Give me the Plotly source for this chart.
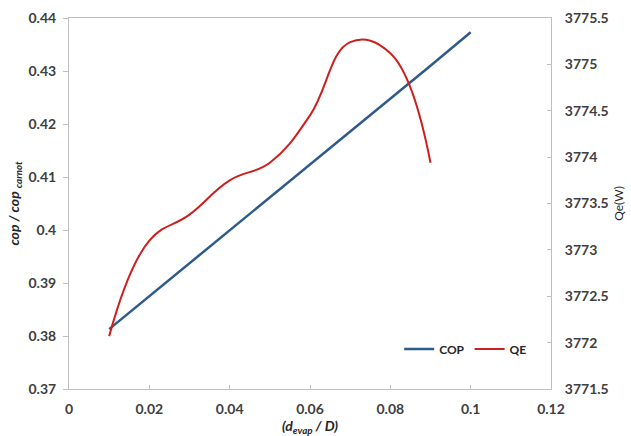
import plotly.graph_objects as go

x_ratio = [0.01, 0.02, 0.03, 0.04, 0.05, 0.06, 0.07, 0.08, 0.09, 0.10]
cop = [0.3813, 0.3875, 0.3937, 0.3999, 0.4061, 0.4124, 0.4186, 0.4248, 0.4310, 0.4373]
x_qe = [0.01, 0.02, 0.03, 0.04, 0.05, 0.06, 0.07, 0.08, 0.09]
qe = [3772.07, 3773.10, 3773.38, 3773.75, 3773.94, 3774.45, 3775.24, 3775.12, 3773.94]

FONT = "Lato"
TXT = "#404040"
AX = "#bfbfbf"

fig = go.Figure()
fig.add_trace(go.Scatter(x=x_ratio, y=cop, name="COP", mode="lines",
                         line=dict(color="#2f5a8c", width=2.5), yaxis="y"))
fig.add_trace(go.Scatter(x=x_qe, y=qe, name="QE", mode="lines",
                         line=dict(color="#cc1f1f", width=2, shape="spline", smoothing=1.2),
                         yaxis="y2"))

fig.update_layout(
    width=631, height=436,
    margin=dict(l=69, r=80, t=18, b=47),
    paper_bgcolor="white", plot_bgcolor="white",
    font=dict(family=FONT, size=14, color=TXT),
    showlegend=True,
    legend=dict(orientation="h", x=0.685, y=0.108, xanchor="left", yanchor="middle",
                font=dict(family=FONT, size=12, color="#262626", weight="bold"),
                bgcolor="rgba(0,0,0,0)", itemwidth=30, tracegroupgap=0),
    xaxis=dict(range=[0, 0.12], tickvals=[0, 0.02, 0.04, 0.06, 0.08, 0.1, 0.12],
               ticktext=["0", "0.02", "0.04", "0.06", "0.08", "0.1", "0.12"],
               showgrid=False, zeroline=False, showline=True, linecolor=AX, linewidth=1,
               mirror=True, ticks="inside", ticklen=4, tickcolor=AX, ticklabelstandoff=7,
               automargin=False,
               tickfont=dict(family=FONT, size=14, color=TXT, weight="bold"),
               title=dict(text="<b><i>(d<sub>evap</sub> / D)</i></b>",
                          font=dict(family=FONT, size=14, color="#262626"), standoff=9)),
    yaxis=dict(range=[0.37, 0.44], tickvals=[0.37, 0.38, 0.39, 0.40, 0.41, 0.42, 0.43, 0.44],
               ticktext=["0.37", "0.38", "0.39", "0.4", "0.41", "0.42", "0.43", "0.44"],
               showgrid=False, zeroline=False, showline=True, linecolor=AX, linewidth=1,
               ticks="outside", ticklen=5, tickcolor=AX, ticklabelstandoff=4,
               automargin=False,
               tickfont=dict(family=FONT, size=14, color=TXT, weight="bold"),
               title=dict(text="<b><i>cop / cop <sub>carnot</sub></i></b>",
                          font=dict(family=FONT, size=14, color="#262626"), standoff=5)),
    yaxis2=dict(range=[3771.5, 3775.5], overlaying="y", side="right",
                tickvals=[3771.5, 3772, 3772.5, 3773, 3773.5, 3774, 3774.5, 3775, 3775.5],
                ticktext=["3771.5", "3772", "3772.5", "3773", "3773.5", "3774", "3774.5", "3775", "3775.5"],
                showgrid=False, zeroline=False, showline=True, linecolor=AX, linewidth=1,
                ticks="inside", ticklen=4, tickcolor=AX, ticklabelstandoff=10,
                automargin=False,
                tickfont=dict(family=FONT, size=14, color=TXT, weight="bold"),
                title=dict(text="Qe(W)", font=dict(family=FONT, size=12, color="#262626"),
                           standoff=6)),
)

fig.write_html("out.html")
